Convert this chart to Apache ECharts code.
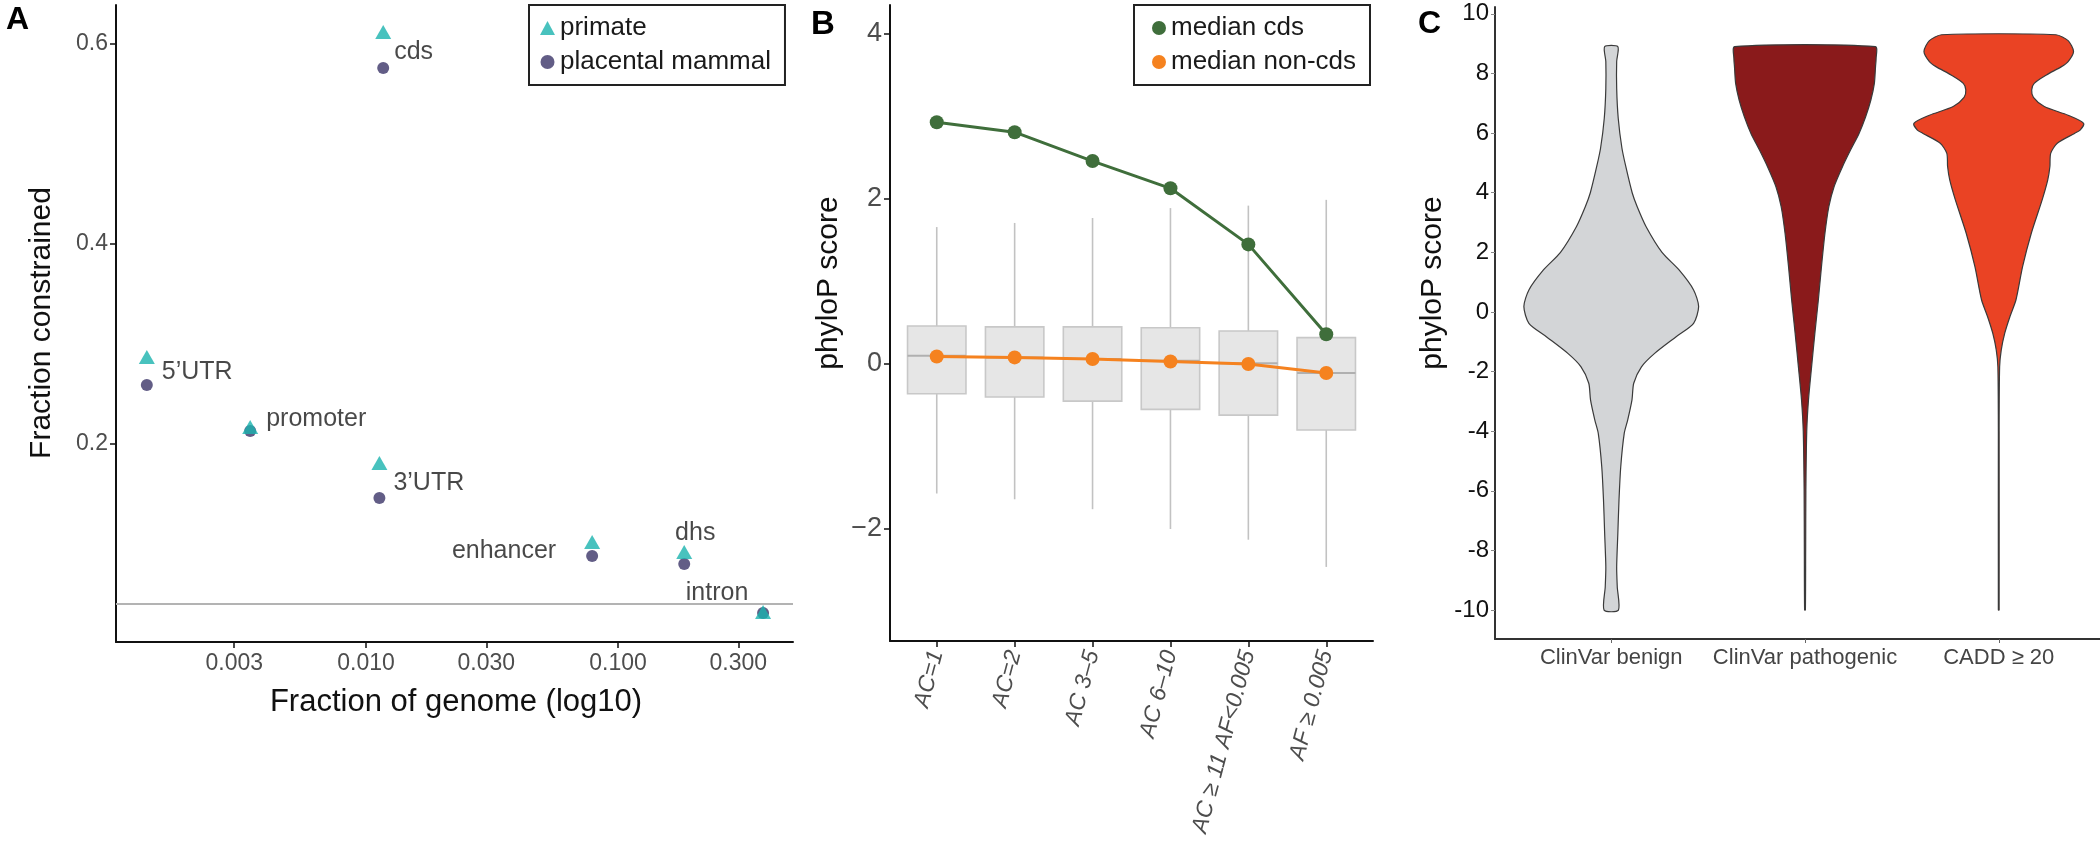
<!DOCTYPE html>
<html><head><meta charset="utf-8">
<script src="https://cdn.jsdelivr.net/npm/echarts@6/dist/echarts.min.js"></script>
<style>html,body{margin:0;padding:0;background:#fff}#c{width:2100px;height:849px}</style>
</head><body><div id="c"></div>
<script>
// ---------- Panel A data ----------
const regions = ['cds', '5\u2019UTR', 'promoter', '3\u2019UTR', 'enhancer', 'dhs', 'intron'];
const genomeFraction = [0.0117, 0.00135, 0.00347, 0.0113, 0.0789, 0.183, 0.376];
const primateConstrained = [0.612, 0.287, 0.217, 0.181, 0.102, 0.092, 0.032];
const mammalConstrained = [0.576, 0.259, 0.213, 0.146, 0.088, 0.080, 0.031];
const neutralLevel = 0.035;
const xTicksA = [0.003, 0.01, 0.03, 0.1, 0.3];
const yTicksA = [0.2, 0.4, 0.6];

// ---------- Panel B data ----------
const acBins = ['AC=1', 'AC=2', 'AC 3\u20135', 'AC 6\u201310', 'AC \u2265 11 AF<0.005', 'AF \u2265 0.005'];
const whiskerLow = [-1.57, -1.64, -1.76, -2.00, -2.13, -2.46];
const quartile1 = [-0.36, -0.40, -0.45, -0.55, -0.62, -0.80];
const boxMedian = [0.10, 0.08, 0.06, 0.04, 0.01, -0.11];
const quartile3 = [0.46, 0.45, 0.45, 0.44, 0.40, 0.32];
const whiskerHigh = [1.66, 1.71, 1.77, 1.89, 1.92, 1.99];
const medianCds = [2.93, 2.81, 2.46, 2.13, 1.45, 0.36];
const medianNonCds = [0.09, 0.08, 0.06, 0.03, 0.00, -0.11];
const yTicksB = [-2, 0, 2, 4];

// ---------- Panel C data ----------
const variantSets = ['ClinVar benign', 'ClinVar pathogenic', 'CADD \u2265 20'];
const benignScore = [8.90, 8.40, 7.50, 6.50, 5.50, 4.88, 4.00, 3.53, 2.86, 2.00, 1.41, 0.74, 0.18, -0.38, -0.83, -1.39, -1.84, -2.39, -2.95, -3.62, -4.07, -5.19, -6.31, -7.43, -8.55, -9.22, -10.0];
const benignDensity = [0.034, 0.028, 0.028, 0.036, 0.055, 0.075, 0.108, 0.134, 0.180, 0.262, 0.350, 0.425, 0.451, 0.425, 0.335, 0.224, 0.156, 0.116, 0.107, 0.085, 0.067, 0.049, 0.040, 0.034, 0.028, 0.031, 0.037];
const pathogenicScore = [8.90, 8.50, 8.23, 7.67, 7.11, 6.55, 5.99, 5.43, 4.88, 4.20, 3.53, 2.64, 1.52, 0.41, -0.71, -1.84, -2.95, -4.0, -6.0, -8.0, -10.0];
const pathogenicDensity = [0.363, 0.367, 0.364, 0.358, 0.340, 0.313, 0.279, 0.235, 0.194, 0.150, 0.123, 0.103, 0.085, 0.069, 0.051, 0.034, 0.018, 0.009, 0.0045, 0.0034, 0.002];
const caddScore = [9.30, 9.10, 8.74, 8.40, 8.23, 7.95, 7.67, 7.45, 7.20, 6.89, 6.60, 6.33, 6.10, 5.99, 5.66, 5.32, 4.88, 4.43, 3.76, 2.64, 1.52, 0.41, -0.15, -0.71, -1.27, -1.84, -4.0, -10.0];
const caddDensity = [0.295, 0.358, 0.386, 0.358, 0.324, 0.246, 0.183, 0.170, 0.179, 0.235, 0.358, 0.438, 0.420, 0.391, 0.302, 0.268, 0.264, 0.253, 0.224, 0.168, 0.123, 0.089, 0.058, 0.031, 0.013, 0.0045, 0.002, 0.002];
const yTicksC = [-10, -8, -6, -4, -2, 0, 2, 4, 6, 8, 10];

// ---------- styles ----------
const FONT = "'Liberation Sans', Arial, Helvetica, sans-serif";
const labelPlacement = {
  'cds': {align: 'left', offset: [11, -16]},
  '5\u2019UTR': {align: 'left', offset: [15, -13]},
  'promoter': {align: 'left', offset: [16, -12]},
  '3\u2019UTR': {align: 'left', offset: [14, -15]},
  'enhancer': {align: 'right', offset: [-36, -5]},
  'dhs': {align: 'center', offset: [11, -31]},
  'intron': {align: 'center', offset: [-46, -20]}
};
const violinColors = ['#d3d5d7', '#8a1a1b', '#ea4324'];
const violinScores = [benignScore, pathogenicScore, caddScore];
const violinDensities = [benignDensity, pathogenicDensity, caddDensity];

const chart = echarts.init(document.getElementById('c'), null, {renderer: 'canvas'});

function baseAxis(extra) {
  return Object.assign({
    splitLine: {show: false},
    axisLine: {show: true, onZero: false, lineStyle: {color: '#111', width: 2}},
    axisTick: {show: true, length: 6, lineStyle: {color: '#111', width: 1.5}},
    axisLabel: {fontFamily: FONT, color: '#4d4d4d', fontSize: 23}
  }, extra);
}

const option = {
  backgroundColor: '#fff',
  animation: false,
  textStyle: {fontFamily: FONT},
  grid: [
    {left: 116, top: 5, width: 677, height: 637, containLabel: false, outerBoundsMode: 'none'},
    {left: 890, top: 5, width: 483, height: 636, containLabel: false, outerBoundsMode: 'none'},
    {left: 1495, top: 7, width: 620, height: 632, containLabel: false, outerBoundsMode: 'none'}
  ],
  xAxis: [
    baseAxis({gridIndex: 0, type: 'value', min: -2.992, max: -0.306,
      axisTick: {show: true, length: 6, customValues: xTicksA.map(Math.log10), lineStyle: {color: '#111', width: 1.5}},
      axisLabel: {customValues: xTicksA.map(Math.log10), formatter: v => Math.pow(10, v).toFixed(3),
        fontFamily: FONT, color: '#4d4d4d', fontSize: 23, margin: 10}}),
    baseAxis({gridIndex: 1, type: 'value', min: -0.6, max: 5.6,
      axisTick: {show: true, length: 6, customValues: [0, 1, 2, 3, 4, 5], lineStyle: {color: '#111', width: 1.5}},
      axisLabel: {customValues: [0, 1, 2, 3, 4, 5], formatter: v => acBins[Math.round(v)],
        rotate: 75, fontStyle: 'italic', fontFamily: FONT, color: '#4d4d4d', fontSize: 23, margin: 10}}),
    baseAxis({gridIndex: 2, type: 'value', min: -0.6, max: 2.6,
      axisLine: {show: true, onZero: false, lineStyle: {color: '#333', width: 2}},
      axisTick: {show: true, length: 4, customValues: [0, 1, 2], lineStyle: {color: '#666', width: 1}},
      axisLabel: {customValues: [0, 1, 2], formatter: v => variantSets[Math.round(v)],
        fontFamily: FONT, color: '#444', fontSize: 22, margin: 8}})
  ],
  yAxis: [
    baseAxis({gridIndex: 0, type: 'value', min: 0.002, max: 0.639,
      axisTick: {show: true, length: 6, customValues: yTicksA, lineStyle: {color: '#111', width: 1.5}},
      axisLabel: {customValues: yTicksA, formatter: v => v.toFixed(1), fontFamily: FONT, color: '#4d4d4d', fontSize: 23, margin: 8}}),
    baseAxis({gridIndex: 1, type: 'value', min: -3.358, max: 4.352,
      axisTick: {show: true, length: 6, customValues: yTicksB, lineStyle: {color: '#111', width: 1.5}},
      axisLabel: {customValues: yTicksB, formatter: v => (v < 0 ? '\u2212' + Math.abs(v) : String(v)),
        fontFamily: FONT, color: '#4d4d4d', fontSize: 27, margin: 8}}),
    baseAxis({gridIndex: 2, type: 'value', min: -10.97, max: 10.23,
      axisLine: {show: true, onZero: false, lineStyle: {color: '#333', width: 2}},
      axisTick: {show: true, length: 4, customValues: yTicksC, lineStyle: {color: '#888', width: 1}},
      axisLabel: {customValues: yTicksC, formatter: v => String(v), fontFamily: FONT, color: '#111', fontSize: 24, margin: 6}})
  ],
  legend: [
    {left: 529, top: 5, orient: 'vertical', data: [{name: 'primate', icon: 'triangle'}, {name: 'placental mammal', icon: 'circle'}],
      itemWidth: 15, itemHeight: 14, itemGap: 8, padding: [10, 14, 10, 11], borderColor: '#222', borderWidth: 2,
      textStyle: {fontFamily: FONT, fontSize: 26, color: '#1a1a1a'}},
    {left: 1134, top: 5, orient: 'vertical', data: [{name: 'median cds', icon: 'circle'}, {name: 'median non-cds', icon: 'circle'}],
      itemWidth: 14, itemHeight: 14, itemGap: 8, padding: [10, 14, 10, 18], borderColor: '#222', borderWidth: 2,
      textStyle: {fontFamily: FONT, fontSize: 26, color: '#1a1a1a'}}
  ],
  graphic: [
    {type: 'text', left: 6, top: 4, style: {text: 'A', font: 'bold 32px ' + FONT, fill: '#000'}},
    {type: 'text', left: 811, top: 8, style: {text: 'B', font: 'bold 33px ' + FONT, fill: '#000'}},
    {type: 'text', left: 1418, top: 8, style: {text: 'C', font: 'bold 32px ' + FONT, fill: '#000'}},
    {type: 'text', x: 42, y: 323, rotation: Math.PI / 2, style: {text: 'Fraction constrained', font: '30px ' + FONT, fill: '#111', align: 'center', verticalAlign: 'middle'}},
    {type: 'text', x: 456, y: 702, style: {text: 'Fraction of genome (log10)', font: '31px ' + FONT, fill: '#111', align: 'center', verticalAlign: 'middle'}},
    {type: 'text', x: 829, y: 283, rotation: Math.PI / 2, style: {text: 'phyloP score', font: '30px ' + FONT, fill: '#111', align: 'center', verticalAlign: 'middle'}},
    {type: 'text', x: 1433, y: 283, rotation: Math.PI / 2, style: {text: 'phyloP score', font: '30px ' + FONT, fill: '#111', align: 'center', verticalAlign: 'middle'}}
  ],
  series: [
    {
      name: 'placental mammal', type: 'scatter', xAxisIndex: 0, yAxisIndex: 0,
      symbol: 'circle', symbolSize: 12, itemStyle: {color: '#3b3468'}, z: 3,
      data: regions.map((r, i) => ({
        value: [Math.log10(genomeFraction[i]), mammalConstrained[i]], name: r,
        label: {show: true, formatter: r, position: 'inside', align: labelPlacement[r].align, verticalAlign: 'middle',
          offset: labelPlacement[r].offset, fontFamily: FONT, fontSize: 25, color: '#1a1a1a'}
      })),
      markLine: {silent: true, symbol: ['none', 'none'], label: {show: false},
        lineStyle: {color: '#b3b3b3', width: 2, type: 'solid'}, data: [{yAxis: neutralLevel}]}
    },
    {
      name: 'primate', type: 'scatter', xAxisIndex: 0, yAxisIndex: 0,
      symbol: 'triangle', symbolSize: [16, 14], itemStyle: {color: '#1ab3ae'}, z: 4,
      data: regions.map((r, i) => [Math.log10(genomeFraction[i]), primateConstrained[i]])
    },
    {
      name: 'boxes', type: 'custom', xAxisIndex: 1, yAxisIndex: 1, z: 1,
      data: acBins.map((_, i) => [i, whiskerLow[i], quartile1[i], boxMedian[i], quartile3[i], whiskerHigh[i]]),
      renderItem: function (params, api) {
        const i = api.value(0);
        const lo = api.coord([i, api.value(1)]);
        const q1 = api.coord([i, api.value(2)]);
        const md = api.coord([i, api.value(3)]);
        const q3 = api.coord([i, api.value(4)]);
        const hi = api.coord([i, api.value(5)]);
        const w = api.size([0.75, 0])[0];
        const ln = {stroke: '#c2c2c2', lineWidth: 1.6};
        return {type: 'group', children: [
          {type: 'line', shape: {x1: lo[0], y1: lo[1], x2: q1[0], y2: q1[1]}, style: ln},
          {type: 'line', shape: {x1: q3[0], y1: q3[1], x2: hi[0], y2: hi[1]}, style: ln},
          {type: 'rect', shape: {x: q3[0] - w / 2, y: q3[1], width: w, height: q1[1] - q3[1]},
            style: {fill: '#e6e6e6', stroke: '#c8c8c8', lineWidth: 1.6}},
          {type: 'line', shape: {x1: md[0] - w / 2, y1: md[1], x2: md[0] + w / 2, y2: md[1]},
            style: {stroke: '#b0b0b0', lineWidth: 2}}
        ]};
      }
    },
    {
      name: 'median cds', type: 'line', xAxisIndex: 1, yAxisIndex: 1, z: 5,
      data: medianCds.map((v, i) => [i, v]), symbol: 'circle', symbolSize: 14, showSymbol: true,
      itemStyle: {color: '#3f6e3b'}, lineStyle: {color: '#3f6e3b', width: 3}
    },
    {
      name: 'median non-cds', type: 'line', xAxisIndex: 1, yAxisIndex: 1, z: 5,
      data: medianNonCds.map((v, i) => [i, v]), symbol: 'circle', symbolSize: 14, showSymbol: true,
      itemStyle: {color: '#f5821f'}, lineStyle: {color: '#f5821f', width: 3}
    },
    {
      name: 'violins', type: 'custom', xAxisIndex: 2, yAxisIndex: 2, z: 2,
      data: variantSets.map((_, i) => [i]),
      renderItem: function (params, api) {
        const i = api.value(0);
        const ys = violinScores[i], d = violinDensities[i];
        const right = ys.map((y, k) => api.coord([i + d[k], y]));
        const left = ys.map((y, k) => api.coord([i - d[k], y])).reverse();
        return {type: 'polygon', shape: {points: right.concat(left), smooth: 0.25},
          style: {fill: violinColors[i], stroke: '#3a3a3a', lineWidth: 1.2}};
      }
    }
  ]
};
chart.setOption(option);
</script>
</body></html>
